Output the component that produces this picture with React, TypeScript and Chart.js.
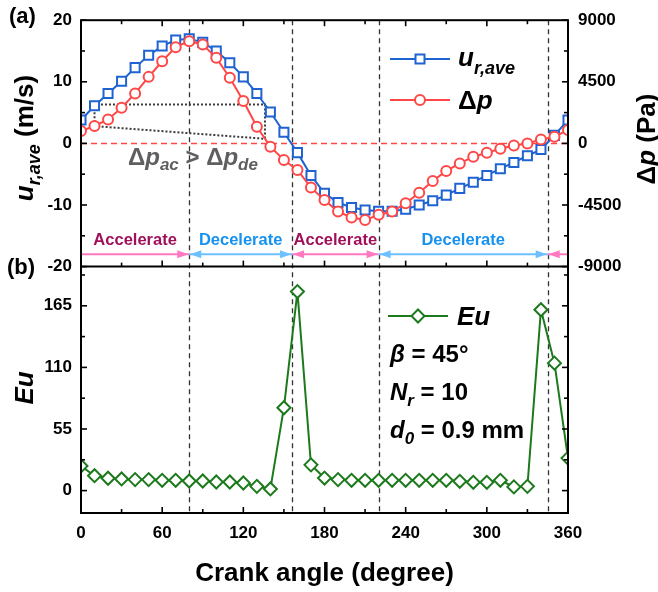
import React, { useEffect, useRef } from "react";
import { Chart, registerables } from "chart.js";
Chart.register(...registerables);

// ---------- data ----------
const angles = [0, 10, 20, 30, 40, 50, 60, 70, 80, 90, 100, 110, 120, 130, 140, 150, 160, 170, 180,
  190, 200, 210, 220, 230, 240, 250, 260, 270, 280, 290, 300, 310, 320, 330, 340, 350, 360];
const uRave = [3.8, 6.1, 8.1, 10.1, 12.3, 14.3, 15.8, 16.8, 17.0, 16.4, 15.0, 13.1, 10.8, 8.1, 5.1, 1.8, -1.5, -5.2, -8.1,
  -9.6, -10.4, -10.8, -11.0, -11.0, -10.7, -10.0, -9.3, -8.4, -7.3, -6.3, -5.2, -4.1, -3.1, -2.0, -1.0, 1.3, 3.8];
const deltaP = [900, 1270, 1750, 2600, 3650, 4860, 6000, 7030, 7470, 7220, 6250, 4800, 3090, 1220, -240, -1210, -1940, -3230, -4130,
  -4980, -5410, -5590, -5220, -4980, -4380, -3600, -2740, -2010, -1460, -970, -680, -390, -150, 0, 290, 490, 980];
const eu = [22, 13.3, 11, 10.4, 9.8, 9.8, 9.2, 9.2, 8.6, 8.6, 7.7, 7.7, 6.8, 3.8, 1.5, 74, 177.7, 23, 11.2,
  9.8, 9.2, 9.2, 9.2, 9.2, 9.2, 9.2, 9.2, 9.2, 8.3, 7.4, 7.4, 9.2, 3.3, 3.8, 161.5, 113.8, 29];

const phaseBounds = [0, 80, 156, 220, 345, 360];
const phaseNames = ["Accelerate", "Decelerate", "Accelerate", "Decelerate", ""];
const noteX = [10, 10, 136, 136, 10];
const noteY = [2.8, 6.3, 6.3, 0.75, 2.8];
const xTicks = [0, 60, 120, 180, 240, 300, 360];
const uTicks = [-20, -10, 0, 10, 20];
const pTicks = [-9000, -4500, 0, 4500, 9000];
const euTicks = [0, 55, 110, 165];
const arrowLevel = -18;
const phaseTextLevel = -15.8;

// ---------- styles ----------
const FAM = '"Liberation Sans", Arial, sans-serif';
const BLUE = "#1F63D3";
const RED = "#FF4747";
const GREEN = "#1C7A1C";
const PINK = "#FF78C0";
const SKY = "#6CC0FF";
const ACC_TXT = "#A0105A";
const DEC_TXT = "#1592F0";

type Seg = { t: string; f: string; dy?: number };
const F = (size: number, italic = false) => `${italic ? "italic " : ""}bold ${size}px ${FAM}`;

function richWidth(ctx: CanvasRenderingContext2D, segs: Seg[]) {
  let w = 0;
  for (const s of segs) { ctx.font = s.f; w += ctx.measureText(s.t).width; }
  return w;
}
function drawRich(ctx: CanvasRenderingContext2D, segs: Seg[], x: number, y: number, align: "left" | "center", color: string) {
  const w = richWidth(ctx, segs);
  let cx = align === "center" ? x - w / 2 : x;
  ctx.textAlign = "left";
  ctx.textBaseline = "alphabetic";
  ctx.fillStyle = color;
  for (const s of segs) {
    ctx.font = s.f;
    ctx.fillText(s.t, cx, y + (s.dy || 0));
    cx += ctx.measureText(s.t).width;
  }
}
function drawMarker(ctx: CanvasRenderingContext2D, kind: string, x: number, y: number, color: string) {
  ctx.save();
  ctx.strokeStyle = color; ctx.fillStyle = "#fff"; ctx.lineWidth = 2;
  ctx.beginPath();
  if (kind === "rect") ctx.rect(x - 4.5, y - 4.5, 9, 9);
  else if (kind === "circle") ctx.arc(x, y, 5, 0, Math.PI * 2);
  else { ctx.moveTo(x, y - 6.5); ctx.lineTo(x + 6.5, y); ctx.lineTo(x, y + 6.5); ctx.lineTo(x - 6.5, y); ctx.closePath(); }
  ctx.fill(); ctx.stroke();
  ctx.restore();
}
function arrowHead(ctx: CanvasRenderingContext2D, tip: number, y: number, dir: number, color: string) {
  ctx.fillStyle = color;
  ctx.beginPath();
  ctx.moveTo(tip, y);
  ctx.lineTo(tip - dir * 11, y - 4);
  ctx.lineTo(tip - dir * 11, y + 4);
  ctx.closePath();
  ctx.fill();
}

const decor = {
  id: "decor",
  beforeDatasetsDraw(chart: any) {
    const ctx: CanvasRenderingContext2D = chart.ctx;
    const { left, right, top, bottom } = chart.chartArea;
    const x = chart.scales.x, yU = chart.scales.yU;
    ctx.save();
    // zero line
    ctx.strokeStyle = RED; ctx.lineWidth = 1.3; ctx.setLineDash([6, 4]);
    const y0 = Math.round(yU.getPixelForValue(0)) + 0.5;
    ctx.beginPath(); ctx.moveTo(left, y0); ctx.lineTo(right, y0); ctx.stroke();
    // phase lines
    ctx.strokeStyle = "#333"; ctx.lineWidth = 1.3; ctx.setLineDash([5, 4]);
    for (let i = 1; i < phaseBounds.length - 1; i++) {
      const px = Math.round(x.getPixelForValue(phaseBounds[i])) + 0.5;
      ctx.beginPath(); ctx.moveTo(px, top); ctx.lineTo(px, bottom); ctx.stroke();
    }
    ctx.setLineDash([]);
    // arrows + labels
    const ay = yU.getPixelForValue(arrowLevel);
    const ty = yU.getPixelForValue(phaseTextLevel);
    for (let i = 0; i < phaseBounds.length - 1; i++) {
      const a = phaseBounds[i], b = phaseBounds[i + 1];
      const acc = i % 2 === 0;
      const col = acc ? PINK : SKY;
      const xa = x.getPixelForValue(a), xb = x.getPixelForValue(b);
      ctx.strokeStyle = col; ctx.lineWidth = 2;
      ctx.beginPath(); ctx.moveTo(xa, ay); ctx.lineTo(xb, ay); ctx.stroke();
      if (i > 0) arrowHead(ctx, xa + 1, ay, -1, col);
      if (i < phaseBounds.length - 2) arrowHead(ctx, xb - 1, ay, 1, col);
      if (phaseNames[i]) {
        ctx.font = F(16.5); ctx.textAlign = "center"; ctx.textBaseline = "middle";
        ctx.fillStyle = acc ? ACC_TXT : DEC_TXT;
        ctx.fillText(phaseNames[i], (xa + xb) / 2, ty);
      }
    }
    ctx.restore();
  },
  afterDatasetsDraw(chart: any) {
    const ctx: CanvasRenderingContext2D = chart.ctx;
    const { left, right, top, bottom } = chart.chartArea;
    const x = chart.scales.x, yU = chart.scales.yU, yP = chart.scales.yP, yE = chart.scales.yEu;
    const mid = yU.bottom;
    ctx.save();
    ctx.setLineDash([]);
    ctx.strokeStyle = "#000";
    // ticks
    ctx.lineWidth = 1.6;
    const tick = (x1: number, y1: number, x2: number, y2: number) => { ctx.beginPath(); ctx.moveTo(x1, y1); ctx.lineTo(x2, y2); ctx.stroke(); };
    for (let v = 0; v <= 360; v += 30) {
      const px = x.getPixelForValue(v);
      const L = v % 60 === 0 ? 6 : 4;
      tick(px, top, px, top + L);
      tick(px, mid, px, mid - L);
      tick(px, bottom, px, bottom - L);
    }
    for (let v = -20; v <= 20; v += 5) {
      const py = yU.getPixelForValue(v);
      tick(left, py, left + (v % 10 === 0 ? 6 : 4), py);
    }
    for (let v = -9000; v <= 9000; v += 2250) {
      const py = yP.getPixelForValue(v);
      tick(right, py, right - (v % 4500 === 0 ? 6 : 4), py);
    }
    for (let k = 0; k <= 7; k++) {
      const v = k * 27.5;
      const py = yE.getPixelForValue(v);
      const L = k % 2 === 0 ? 6 : 4;
      tick(left, py, left + L, py);
      tick(right, py, right - L, py);
    }
    // frame
    ctx.lineWidth = 2;
    ctx.strokeRect(left, top, right - left, bottom - top);
    tick(left, mid, right, mid);

    // panel labels
    ctx.fillStyle = "#000"; ctx.textAlign = "left"; ctx.textBaseline = "middle";
    ctx.font = F(22);
    ctx.fillText("(a)", 9, 17);
    ctx.fillText("(b)", 7, mid + 1);

    // annotation text
    drawRich(ctx, [
      { t: "\u0394", f: F(24) }, { t: "p", f: F(24, true) }, { t: "ac", f: F(17, true), dy: 5 },
      { t: " > ", f: F(24) },
      { t: "\u0394", f: F(24) }, { t: "p", f: F(24, true) }, { t: "de", f: F(17, true), dy: 5 },
    ], 128, 165, "left", "#5F5F5F");

    // legend top
    ctx.lineWidth = 2;
    ctx.strokeStyle = BLUE; tick(390, 59, 450, 59); drawMarker(ctx, "rect", 420, 59, BLUE);
    ctx.strokeStyle = RED; tick(390, 100, 450, 100); drawMarker(ctx, "circle", 420, 100, RED);
    drawRich(ctx, [{ t: "u", f: F(26, true) }, { t: "r,ave", f: F(18, true), dy: 8 }], 458, 66, "left", "#000");
    drawRich(ctx, [{ t: "\u0394", f: F(26) }, { t: "p", f: F(26, true) }], 458, 109, "left", "#000");

    // legend bottom
    ctx.strokeStyle = GREEN; tick(388, 316, 448, 316); drawMarker(ctx, "diamond", 418, 316, GREEN);
    drawRich(ctx, [{ t: "Eu", f: F(26, true) }], 457, 325, "left", "#000");
    drawRich(ctx, [{ t: "\u03B2", f: F(24, true) }, { t: " = 45\u00B0", f: F(24) }], 390, 362, "left", "#000");
    drawRich(ctx, [{ t: "N", f: F(24, true) }, { t: "r", f: F(17, true), dy: 6 }, { t: " = 10", f: F(24) }], 390, 400, "left", "#000");
    drawRich(ctx, [{ t: "d", f: F(24, true) }, { t: "0", f: F(17, true), dy: 6 }, { t: " = 0.9 mm", f: F(24) }], 390, 438, "left", "#000");

    // axis titles
    const vText = (segs: Seg[], cx: number, cy: number, base: number) => {
      ctx.save(); ctx.translate(cx, cy); ctx.rotate(-Math.PI / 2);
      drawRich(ctx, segs, 0, base, "center", "#000");
      ctx.restore();
    };
    vText([{ t: "u", f: F(26, true) }, { t: "r,ave", f: F(18, true), dy: 7 }, { t: " (m/s)", f: F(26) }], 24, 138, 9);
    vText([{ t: "Eu", f: F(26, true) }], 24, 388, 9);
    vText([{ t: "\u0394", f: F(26) }, { t: "p", f: F(26, true) }, { t: " (Pa)", f: F(26) }], 646, 139, 9);
    drawRich(ctx, [{ t: "Crank angle (degree)", f: F(26) }], (left + right) / 2, 581, "center", "#000");
    ctx.restore();
  },
};

const tickFont = { family: FAM, size: 17, weight: "bold" as const };
const plain = (v: any) => String(v);

export default function App() {
  const ref = useRef<HTMLCanvasElement | null>(null);
  useEffect(() => {
    if (!ref.current) return;
    const pts = (ys: number[]) => angles.map((a, i) => ({ x: a, y: ys[i] }));
    const chart = new Chart(ref.current, {
      type: "line",
      data: {
        datasets: [
          {
            label: "dp", data: pts(deltaP), yAxisID: "yP", xAxisID: "x", order: 0,
            borderColor: RED, borderWidth: 2, pointStyle: "circle", pointRadius: 5, pointBorderWidth: 2,
            pointBorderColor: RED, pointBackgroundColor: "#fff", tension: 0,
          },
          {
            label: "u", data: pts(uRave), yAxisID: "yU", xAxisID: "x", order: 1,
            borderColor: BLUE, borderWidth: 2, pointStyle: "rect", pointRadius: 6.4, pointBorderWidth: 2,
            pointBorderColor: BLUE, pointBackgroundColor: "#fff", tension: 0,
          },
          {
            label: "Eu", data: pts(eu), yAxisID: "yEu", xAxisID: "x", order: 2,
            borderColor: GREEN, borderWidth: 2, pointStyle: "rectRot", pointRadius: 6.5, pointBorderWidth: 2,
            pointBorderColor: GREEN, pointBackgroundColor: "#fff", tension: 0,
          },
          {
            label: "note", data: noteX.map((v, i) => ({ x: v, y: noteY[i] })), yAxisID: "yU", xAxisID: "x", order: 3,
            borderColor: "#3A3A3A", borderWidth: 2, borderDash: [2, 2], pointRadius: 0, tension: 0,
          },
        ],
      },
      options: {
        animation: false,
        responsive: false,
        parsing: true,
        layout: { padding: { top: 17, left: 0, right: 0, bottom: 0 } },
        plugins: { legend: { display: false }, tooltip: { enabled: false } },
        scales: {
          x: {
            type: "linear", position: "bottom", min: 0, max: 360,
            afterBuildTicks: (s: any) => { s.ticks = xTicks.map((v) => ({ value: v })); },
            ticks: { font: tickFont, color: "#000", padding: 10, autoSkip: false, maxRotation: 0, callback: plain },
            grid: { display: false, drawTicks: false }, border: { display: false },
            afterFit: (s: any) => { s.height = 79; },
          },
          yU: {
            type: "linear", position: "left", stack: "L", stackWeight: 1, weight: 1, min: -20, max: 20,
            afterBuildTicks: (s: any) => { s.ticks = uTicks.map((v) => ({ value: v })); },
            ticks: { font: tickFont, color: "#000", padding: 9, autoSkip: false, callback: plain },
            grid: { display: false, drawTicks: false }, border: { display: false },
            afterFit: (s: any) => { s.width = 81; },
          },
          yEu: {
            type: "linear", position: "left", stack: "L", stackWeight: 1, weight: 0, min: -20, max: 200,
            afterBuildTicks: (s: any) => { s.ticks = euTicks.map((v) => ({ value: v })); },
            ticks: { font: tickFont, color: "#000", padding: 9, autoSkip: false, callback: plain },
            grid: { display: false, drawTicks: false }, border: { display: false },
            afterFit: (s: any) => { s.width = 81; },
          },
          yP: {
            type: "linear", position: "right", stack: "R", stackWeight: 1, weight: 0, min: -9000, max: 9000,
            afterBuildTicks: (s: any) => { s.ticks = pTicks.map((v) => ({ value: v })); },
            ticks: { font: tickFont, color: "#000", padding: 10, autoSkip: false, callback: plain },
            grid: { display: false, drawTicks: false }, border: { display: false },
            afterFit: (s: any) => { s.width = 90; },
          },
          yR2: {
            type: "linear", position: "right", stack: "R", stackWeight: 1, weight: 1, min: -20, max: 200,
            ticks: { display: false },
            grid: { display: false, drawTicks: false }, border: { display: false },
            afterFit: (s: any) => { s.width = 90; },
          },
        },
      } as any,
      plugins: [decor],
    });
    return () => chart.destroy();
  }, []);
  return (
    <div style={{ position: "fixed", left: 0, top: 0, width: 658, height: 592, background: "#fff" }}>
      <canvas ref={ref} width={658} height={592} style={{ display: "block", width: 658, height: 592 }} />
    </div>
  );
}
